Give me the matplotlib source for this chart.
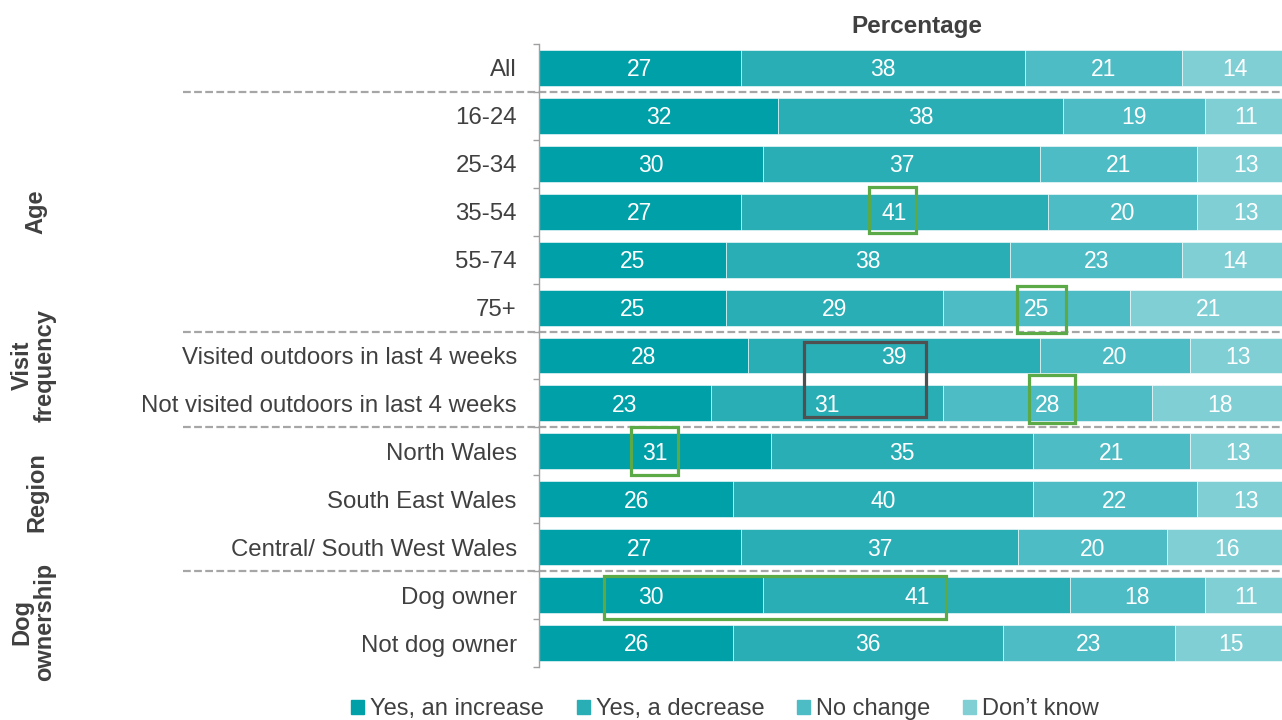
import matplotlib.pyplot as plt
from matplotlib.patches import Rectangle
from matplotlib.lines import Line2D
import numpy as np

plt.rcParams['font.family'] = ['Liberation Sans', 'DejaVu Sans']

# data
rows = ['All', '16-24', '25-34', '35-54', '55-74', '75+',
        'Visited outdoors in last 4 weeks', 'Not visited outdoors in last 4 weeks',
        'North Wales', 'South East Wales', 'Central/ South West Wales',
        'Dog owner', 'Not dog owner']
increase = [27, 32, 30, 27, 25, 25, 28, 23, 31, 26, 27, 30, 26]
decrease = [38, 38, 37, 41, 38, 29, 39, 31, 35, 40, 37, 41, 36]
nochange = [21, 19, 21, 20, 23, 25, 20, 28, 21, 22, 20, 18, 23]
dontknow = [14, 11, 13, 13, 14, 21, 13, 18, 13, 13, 16, 11, 15]
series_names = ['Yes, an increase', 'Yes, a decrease', 'No change', 'Don\u2019t know']
colors = ['#00A0A8', '#2AAEB6', '#4EBCC4', '#80CFD4']

groups = ['Age', 'Visit\nfrequency', 'Region', 'Dog\nownership']
group_y = [3.0, 6.2, 8.83, 11.55]
group_x = [36, 34, 37, 33]
separators = [0.5, 5.5, 7.5, 10.5]

W, H = 1282, 720
fig = plt.figure(figsize=(W / 100, H / 100), dpi=100)
ax = fig.add_axes([539 / W, 1 - 667 / H, 748 / W, 623 / H])

y = np.arange(len(rows))
left = np.zeros(len(rows))
for vals, c in zip([increase, decrease, nochange, dontknow], colors):
    vals = np.array(vals)
    ax.barh(y, vals, left=left, height=0.75, color=c, edgecolor='white', linewidth=0.4)
    for yi, (l, v) in enumerate(zip(left, vals)):
        ax.text(l + v / 2, yi + 0.04, str(v), ha='center', va='center',
                color='white', fontsize=16.5)
    left += vals

ax.set_xlim(0, 100)
ax.set_ylim(len(rows) - 0.5, -0.5)

ax.set_yticks(y)
ax.set_yticklabels(rows, fontsize=17.3, color='#404040')
ax.tick_params(axis='y', which='major', length=0, pad=16)
ax.set_yticks(np.arange(-0.5, len(rows)), minor=True)
ax.tick_params(axis='y', which='minor', length=4.5, color='#A0A0A0', width=1)
ax.set_xticks([])
for s in ['top', 'right', 'bottom']:
    ax.spines[s].set_visible(False)
ax.spines['left'].set_color('#A0A0A0')
ax.spines['left'].set_linewidth(1)

# dashed separators between groups
x0 = (183 - 539) / 748
for sy in separators:
    ax.add_line(Line2D([x0, 1], [sy, sy], transform=ax.get_yaxis_transform(),
                       color='#A6A6A6', lw=1.6, dashes=(3.5, 1.5), clip_on=False))

# group labels
for g, gy, gx in zip(groups, group_y, group_x):
    fig.text(gx / W, 1 - (68 + gy * 48) / H, g, rotation=90, ha='center', va='center',
             fontsize=17, fontweight='bold', color='#404040', linespacing=1.0,
             multialignment='center')

# highlight boxes
green = '#5BAA47'
boxes = [(44.1, 2.48, 50.4, 3.44), (63.9, 4.54, 70.5, 5.54), (65.5, 6.40, 71.7, 7.40),
         (12.3, 7.50, 18.6, 8.50), (8.7, 10.60, 54.4, 11.50)]
for x1, y1, x2, y2 in boxes:
    ax.add_patch(Rectangle((x1, y1), x2 - x1, y2 - y1, fill=False, edgecolor=green, lw=2.3, zorder=5))
ax.add_patch(Rectangle((35.4, 5.71), 51.7 - 35.4, 7.29 - 5.71, fill=False,
                       edgecolor='#505050', lw=2.3, zorder=5))

fig.text(917 / W, 1 - 27 / H, 'Percentage', ha='center', va='center',
         fontsize=17.5, fontweight='bold', color='#404040')

handles = [Rectangle((0, 0), 1, 1, color=c) for c in colors]
fig.legend(handles, series_names, loc='center', bbox_to_anchor=(725 / W, 1 - 709 / H),
           ncol=4, frameon=False, fontsize=17, handlelength=0.55, handleheight=0.55,
           handletextpad=0.25, columnspacing=1.4, labelcolor='#404040')

plt.savefig('out.png', dpi=100)
